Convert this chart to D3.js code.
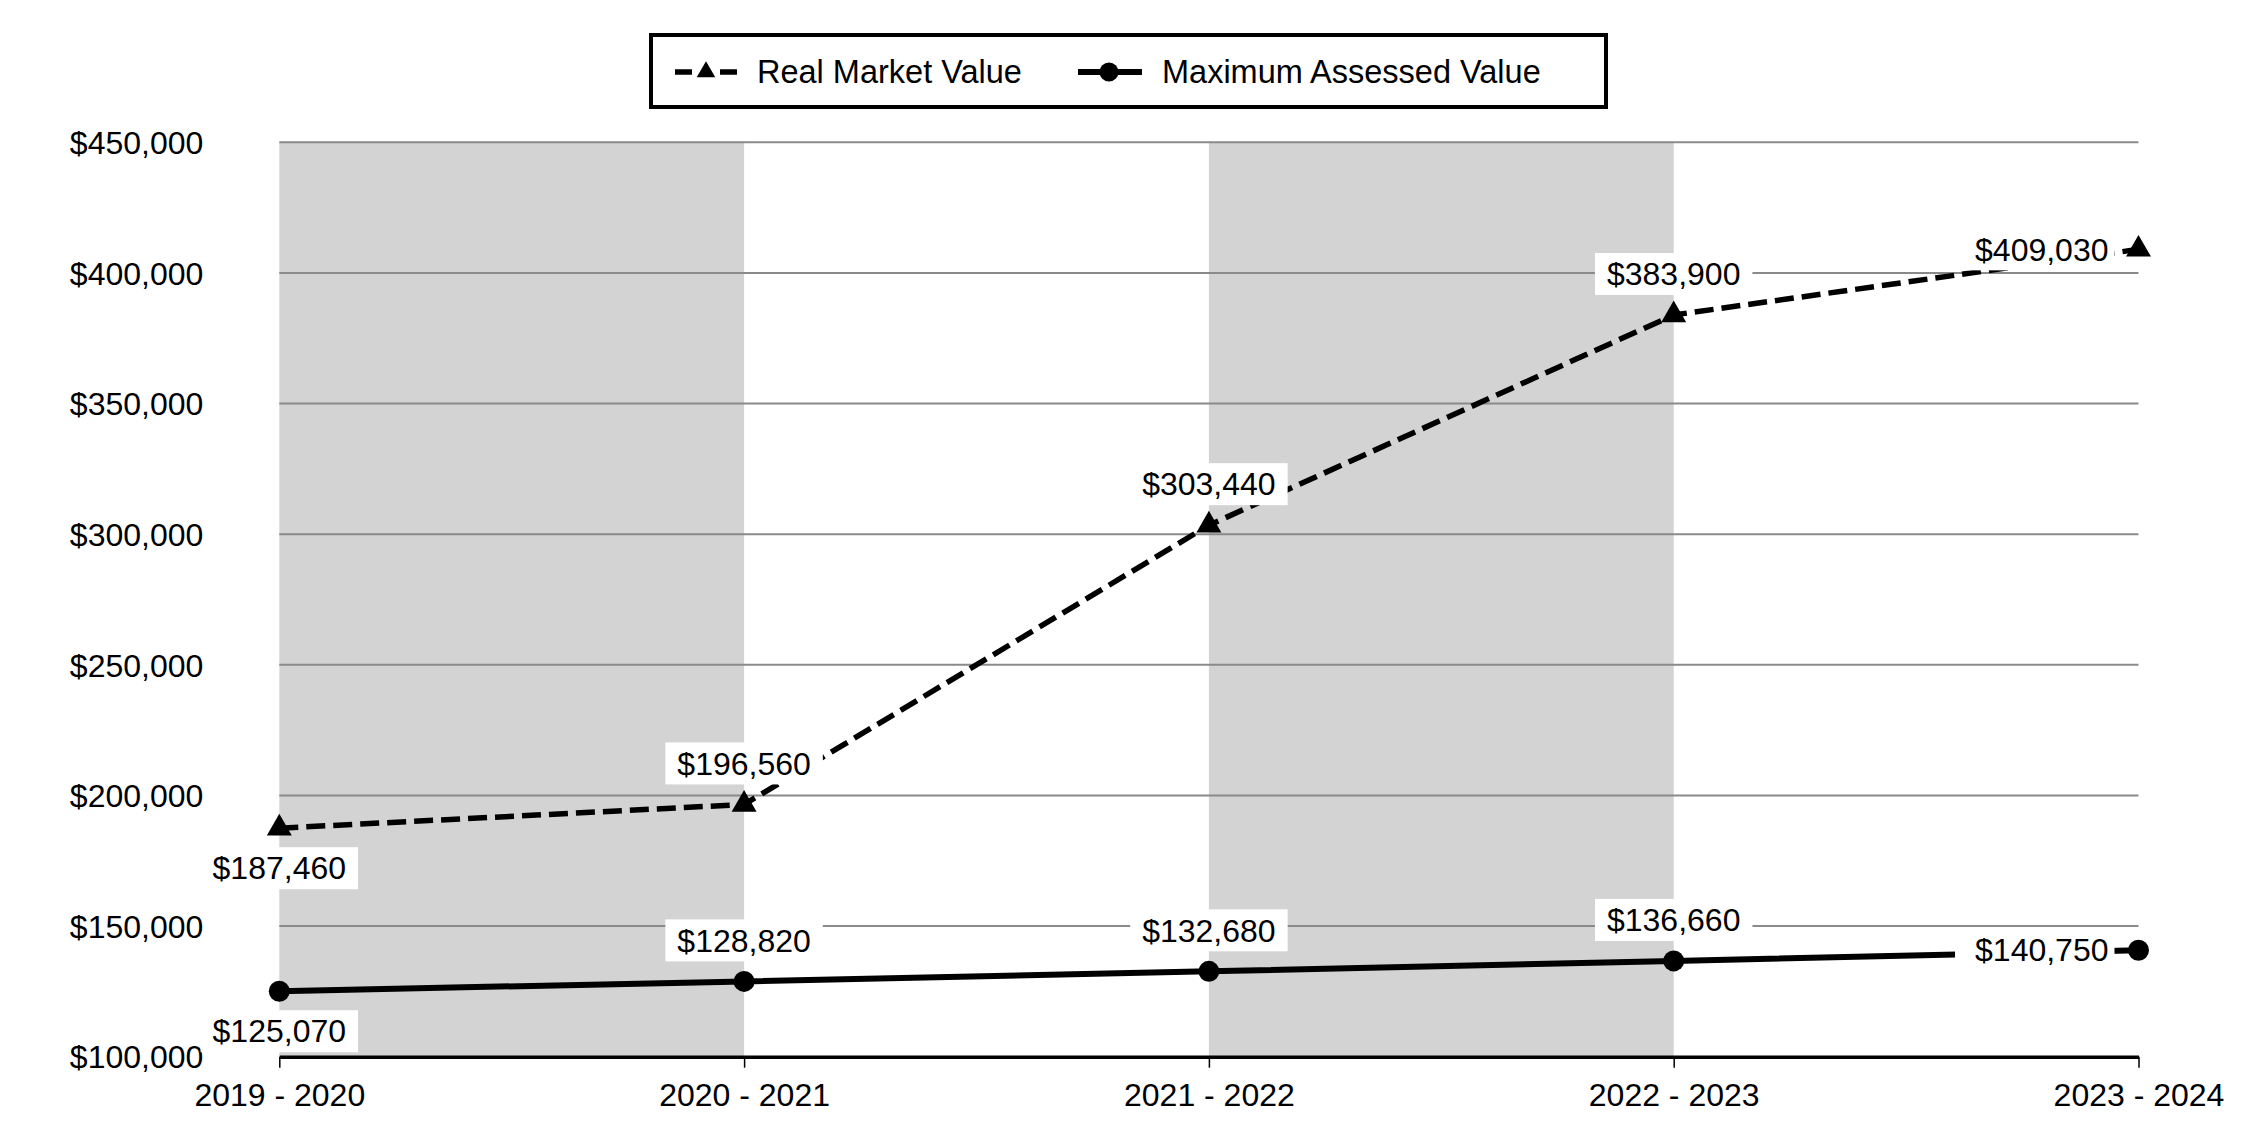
<!DOCTYPE html>
<html>
<head>
<meta charset="utf-8">
<script src="https://cdn.jsdelivr.net/npm/d3@7"></script>
<style>
  html, body { margin: 0; padding: 0; background: #fff; }
  svg { display: block; font-family: "Liberation Sans", Arial, sans-serif; }
</style>
</head>
<body>
<svg id="chart" width="2250" height="1140"></svg>
<script>
// ---- data ----
const categories = ["2019 - 2020", "2020 - 2021", "2021 - 2022", "2022 - 2023", "2023 - 2024"];
const realMarketValue = [187460, 196560, 303440, 383900, 409030];
const maxAssessedValue = [125070, 128820, 132680, 136660, 140750];
const yTicks = [100000, 150000, 200000, 250000, 300000, 350000, 400000, 450000];
const seriesNames = ["Real Market Value", "Maximum Assessed Value"];

// ---- layout ----
const W = 2250, H = 1140;
const plot = { left: 279.3, right: 2138.5, top: 142.3, bottom: 1056.7 };
const FONT = 32;
const rmvLabelPos = ["below", "above", "above", "above", "left"];
const mavLabelPos = ["below", "above", "above", "above", "left"];

const svg = d3.select("#chart");

const x = d3.scalePoint().domain(categories).range([plot.left, plot.right]);
const y = d3.scaleLinear().domain([100000, 450000]).range([plot.bottom, plot.top]);

// alternating bands
const bands = categories.slice(0, -1).map((c, i) => ({ i, from: c, to: categories[i + 1] }))
  .filter(d => d.i % 2 === 0);
svg.append("g").selectAll("rect").data(bands).join("rect")
  .attr("x", d => x(d.from))
  .attr("y", y(450000))
  .attr("width", d => x(d.to) - x(d.from))
  .attr("height", y(100000) - y(450000))
  .attr("fill", "#d3d3d3");

// gridlines
svg.append("g").selectAll("line").data(yTicks.filter(t => t > 100000)).join("line")
  .attr("x1", plot.left).attr("x2", plot.right)
  .attr("y1", d => y(d)).attr("y2", d => y(d))
  .attr("stroke", "#8a8a8a").attr("stroke-width", 2);

// y axis labels
const yAxis = svg.append("g").attr("transform", `translate(${plot.left},0)`)
  .call(d3.axisLeft(y).tickValues(yTicks).tickFormat(d3.format("$,")).tickSize(0).tickPadding(76));
yAxis.select(".domain").remove();
yAxis.selectAll("text").attr("font-size", FONT).attr("fill", "#000")
  .attr("font-family", "'Liberation Sans', Arial, sans-serif").attr("dy", "0.35em");

// x axis
const xAxis = svg.append("g").attr("transform", `translate(0,${plot.bottom})`)
  .call(d3.axisBottom(x).tickSize(11).tickSizeOuter(0).tickPadding(15.5));
xAxis.select(".domain").attr("stroke", "#000").attr("stroke-width", 3.5);
xAxis.selectAll(".tick line").attr("stroke", "#000").attr("stroke-width", 1.5);
xAxis.selectAll("text").attr("font-size", FONT).attr("fill", "#000")
  .attr("font-family", "'Liberation Sans', Arial, sans-serif");

// lines
const line = d3.line().x((d, i) => x(categories[i])).y(d => y(d));
svg.append("path").datum(realMarketValue).attr("d", line)
  .attr("fill", "none").attr("stroke", "#000").attr("stroke-width", 5.5)
  .attr("stroke-dasharray", "19,8");
svg.append("path").datum(maxAssessedValue).attr("d", line)
  .attr("fill", "none").attr("stroke", "#000").attr("stroke-width", 6);

// markers
const tri = d3.symbol().type(d3.symbolTriangle).size(270);
svg.append("g").selectAll("path").data(realMarketValue).join("path")
  .attr("d", tri)
  .attr("transform", (d, i) => `translate(${x(categories[i])},${y(d)})`)
  .attr("fill", "#000");
svg.append("g").selectAll("circle").data(maxAssessedValue).join("circle")
  .attr("cx", (d, i) => x(categories[i])).attr("cy", d => y(d))
  .attr("r", 10.5).attr("fill", "#000");

// data labels
const fmt = d3.format("$,");
function drawLabels(values, positions) {
  const g = svg.append("g");
  values.forEach((v, i) => {
    const px = x(categories[i]), py = y(v), pos = positions[i];
    const lg = g.append("g");
    const rect = lg.append("rect").attr("fill", "#fff");
    const t = lg.append("text").text(fmt(v)).attr("font-size", FONT).attr("fill", "#000")
      .attr("dy", "0.35em");
    let tx = px, ty = py, anchor = "middle";
    if (pos === "above") ty = py - 41;
    else if (pos === "below") ty = py + 40;
    else if (pos === "left") { tx = px - 30; anchor = "end"; }
    t.attr("x", tx).attr("y", ty).attr("text-anchor", anchor);
    const bb = t.node().getBBox();
    let x0, x1;
    if (pos === "left") { x0 = bb.x - 20; x1 = bb.x + bb.width + 6; }
    else { x0 = bb.x - 12; x1 = bb.x + bb.width + 12; }
    rect.attr("x", x0).attr("width", x1 - x0).attr("y", ty - 21).attr("height", 42);
  });
}
drawLabels(realMarketValue, rmvLabelPos);
drawLabels(maxAssessedValue, mavLabelPos);

// legend
const lg = svg.append("g");
lg.append("rect").attr("x", 651).attr("y", 35).attr("width", 955).attr("height", 72)
  .attr("fill", "#fff").attr("stroke", "#000").attr("stroke-width", 4);
const items = lg.selectAll("g.item").data(seriesNames).join("g").attr("class", "item")
  .attr("transform", (d, i) => `translate(${i === 0 ? 675 : 1078},72)`);
items.each(function(d, i) {
  const it = d3.select(this);
  if (i === 0) {
    it.append("line").attr("x1", 0).attr("x2", 62).attr("y1", 0).attr("y2", 0)
      .attr("stroke", "#000").attr("stroke-width", 5.5).attr("stroke-dasharray", "17,11,6,11,17");
    it.append("path").attr("d", d3.symbol().type(d3.symbolTriangle).size(150))
      .attr("transform", "translate(31,0)").attr("fill", "#000");
    it.append("text").attr("x", 82).attr("y", 0).attr("dy", "0.35em").text(d)
      .attr("font-size", 32.5).attr("fill", "#000");
  } else {
    it.append("line").attr("x1", 0).attr("x2", 64).attr("y1", 0).attr("y2", 0)
      .attr("stroke", "#000").attr("stroke-width", 6);
    it.append("circle").attr("cx", 31).attr("cy", 0).attr("r", 9.5).attr("fill", "#000");
    it.append("text").attr("x", 84).attr("y", 0).attr("dy", "0.35em").text(d)
      .attr("font-size", 32.5).attr("fill", "#000");
  }
});
</script>
</body>
</html>
